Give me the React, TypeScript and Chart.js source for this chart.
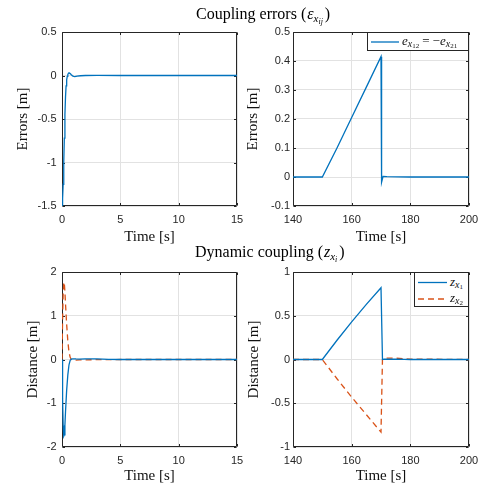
import React, { useEffect, useRef } from "react";
import { Chart, registerables } from "chart.js";

Chart.register(...registerables);

const BLUE = "#0072BD";
const ORANGE = "#D95319";
const AXIS = "#262626";
const GRID = "#e2e2e2";

// Top-left: coupling error, 0–15 s
const errTimeA = [0, 0.05, 0.1, 0.15, 0.2, 0.25, 0.3, 0.35, 0.4, 0.45, 0.5, 0.55, 0.6, 0.7, 0.8, 0.9, 1.0, 1.1, 1.3, 1.6, 2.0, 3, 5, 10, 15];
const errValA = [-1.5, -1.42, -1.25, -1.0, -0.72, -0.45, -0.25, -0.12, -0.05, -0.01, 0.012, 0.025, 0.03, 0.022, 0.008, -0.004, -0.01, -0.012, -0.008, -0.003, 0, 0.001, 0, 0, 0];

// Top-right: coupling error, 140–200 s
const errTimeB = [140, 150, 155, 160, 165, 170, 170.2, 170.7, 172, 180, 190, 200];
const errValB = [0, 0, 0.1, 0.205, 0.31, 0.415, -0.018, 0.002, 0.001, 0, 0, 0];

// Bottom-left: dynamic coupling, 0–15 s
const zTimeA = [0, 0.05, 0.1, 0.15, 0.2, 0.25, 0.3, 0.4, 0.5, 0.6, 0.7, 0.8, 0.9, 1.0, 1.2, 1.5, 2, 2.5, 3, 4, 5, 10, 15];
const z1A = [0, -0.9, -1.5, -1.75, -1.72, -1.5, -1.2, -0.7, -0.35, -0.12, -0.02, 0.01, 0.015, 0.015, 0.012, 0.01, 0.012, 0.015, 0.012, 0.005, 0, 0, 0];
const z2A = [0, 0.9, 1.5, 1.77, 1.74, 1.55, 1.28, 0.8, 0.42, 0.17, 0.05, 0.0, -0.012, -0.015, -0.012, -0.01, -0.008, -0.006, -0.004, -0.002, 0, 0, 0];

// Bottom-right: dynamic coupling, 140–200 s
const zTimeB = [140, 150, 155, 160, 165, 170, 170.5, 171, 175, 178, 180, 200];
const z1B = [0, 0, 0.22, 0.43, 0.63, 0.82, 0.0, 0.005, 0.003, 0.001, 0, 0];
const z2B = [0, 0, -0.22, -0.43, -0.63, -0.83, 0.0, 0.015, 0.015, 0.01, 0.005, 0];

// Tick labels
const xTicksA = [0, 5, 10, 15];
const xTicksB = [140, 160, 180, 200];
const yTicksErrA = [-1.5, -1, -0.5, 0, 0.5];
const yTicksErrB = [-0.1, 0, 0.1, 0.2, 0.3, 0.4, 0.5];
const yTicksZA = [-2, -1, 0, 1, 2];
const yTicksZB = [-1, -0.5, 0, 0.5, 1];

type Series = { t: number[]; v: number[]; color: string; dash?: number[] };
type Panel = {
  series: Series[];
  xTicks: number[];
  yTicks: number[];
  yTitle: string;
  yAxisW: number;
  yTickPad: number;
  yTitlePad: number;
  xAxisH: number;
  xTitlePad: number;
  padTop: number;
  padRight: number;
};

const boxPlugin = {
  id: "matlabBox",
  beforeDatasetsDraw(chart: any) {
    const { ctx, chartArea, scales } = chart;
    const { left, right, top, bottom } = chartArea;
    const x = scales.x;
    const y = scales.y;
    ctx.save();
    ctx.strokeStyle = AXIS;
    ctx.lineWidth = 1;
    ctx.beginPath();
    const L = Math.round(left) + 0.5;
    const R = Math.round(right) - 0.5;
    const T = Math.round(top) + 0.5;
    const B = Math.round(bottom) - 0.5;
    ctx.rect(L, T, R - L, B - T);
    const tl = 2.5;
    x.ticks.forEach((tk: any) => {
      const px = Math.round(x.getPixelForValue(tk.value)) + 0.5;
      ctx.moveTo(px, B);
      ctx.lineTo(px, B - tl);
      ctx.moveTo(px, T);
      ctx.lineTo(px, T + tl);
    });
    y.ticks.forEach((tk: any) => {
      const py = Math.round(y.getPixelForValue(tk.value)) + 0.5;
      ctx.moveTo(L, py);
      ctx.lineTo(L + tl, py);
      ctx.moveTo(R, py);
      ctx.lineTo(R - tl, py);
    });
    ctx.stroke();
    ctx.restore();
  },
};

function makeChart(canvas: HTMLCanvasElement, p: Panel) {
  const tickFont = { family: "'Liberation Sans', Arial, sans-serif", size: 11 };
  const titleFont = { family: "'Liberation Serif', 'Times New Roman', serif", size: 15, lineHeight: 1 };
  return new Chart(canvas, {
    type: "line",
    data: {
      datasets: p.series.map((s) => ({
        data: s.t.map((t, i) => ({ x: t, y: s.v[i] })),
        borderColor: s.color,
        borderWidth: 1.3,
        borderDash: s.dash ?? [],
        pointRadius: 0,
        fill: false,
        tension: 0,
      })),
    },
    options: {
      responsive: false,
      animation: false,
      devicePixelRatio: 1,
      events: [],
      layout: { padding: { top: p.padTop, right: p.padRight, left: 0, bottom: 0 } },
      plugins: {
        legend: { display: false },
        tooltip: { enabled: false },
        title: { display: false },
      },
      scales: {
        x: {
          type: "linear",
          min: p.xTicks[0],
          max: p.xTicks[p.xTicks.length - 1],
          afterBuildTicks: (s: any) => {
            s.ticks = p.xTicks.map((v) => ({ value: v }));
          },
          afterFit: (s: any) => {
            s.height = p.xAxisH;
            s.paddingLeft = 0;
            s.paddingRight = 0;
          },
          ticks: {
            padding: 7,
            color: AXIS,
            font: tickFont,
            maxRotation: 0,
            autoSkip: false,
            callback: (v: any) => String(v),
          },
          grid: { color: GRID, lineWidth: 1, drawTicks: false },
          border: { display: false },
          title: {
            display: true,
            text: "Time [s]",
            color: "#111",
            font: titleFont,
            padding: { top: 0, bottom: p.xTitlePad },
          },
        },
        y: {
          type: "linear",
          min: p.yTicks[0],
          max: p.yTicks[p.yTicks.length - 1],
          afterBuildTicks: (s: any) => {
            s.ticks = p.yTicks.map((v) => ({ value: v }));
          },
          afterFit: (s: any) => {
            s.width = p.yAxisW;
            s.paddingTop = 0;
            s.paddingBottom = 0;
          },
          ticks: {
            padding: p.yTickPad,
            color: AXIS,
            font: tickFont,
            autoSkip: false,
            callback: (v: any) => String(v),
          },
          grid: { color: GRID, lineWidth: 1, drawTicks: false },
          border: { display: false },
          title: {
            display: true,
            text: p.yTitle,
            color: "#111",
            font: titleFont,
            padding: { top: p.yTitlePad, bottom: 0 },
          },
        },
      },
    } as any,
    plugins: [boxPlugin],
  });
}

const serif = "'Liberation Serif', 'Times New Roman', serif";

const Sub = ({ children, size, top, italic = true }: { children: React.ReactNode; size: number; top: number; italic?: boolean }) => (
  <span style={{ fontSize: size, position: "relative", top, fontStyle: italic ? "italic" : "normal" }}>{children}</span>
);

export default function App() {
  const r1 = useRef<HTMLCanvasElement>(null);
  const r2 = useRef<HTMLCanvasElement>(null);
  const r3 = useRef<HTMLCanvasElement>(null);
  const r4 = useRef<HTMLCanvasElement>(null);

  useEffect(() => {
    const charts = [
      makeChart(r1.current!, {
        series: [{ t: errTimeA, v: errValA, color: BLUE }],
        xTicks: xTicksA,
        yTicks: yTicksErrA,
        yTitle: "Errors [m]",
        yAxisW: 62,
        yTickPad: 5.5,
        yTitlePad: 16,
        xAxisH: 40,
        xTitlePad: 1,
        padTop: 10,
        padRight: 8,
      }),
      makeChart(r2.current!, {
        series: [{ t: errTimeB, v: errValB, color: BLUE }],
        xTicks: xTicksB,
        yTicks: yTicksErrB,
        yTitle: "Errors [m]",
        yAxisW: 48,
        yTickPad: 3,
        yTitlePad: 1,
        xAxisH: 40,
        xTitlePad: 1,
        padTop: 10,
        padRight: 16,
      }),
      makeChart(r3.current!, {
        series: [
          { t: zTimeA, v: z1A, color: BLUE },
          { t: zTimeA, v: z2A, color: ORANGE, dash: [6, 4] },
        ],
        xTicks: xTicksA,
        yTicks: yTicksZA,
        yTitle: "Distance [m]",
        yAxisW: 62,
        yTickPad: 5.5,
        yTitlePad: 26,
        xAxisH: 41,
        xTitlePad: 4.5,
        padTop: 10,
        padRight: 8,
      }),
      makeChart(r4.current!, {
        series: [
          { t: zTimeB, v: z1B, color: BLUE },
          { t: zTimeB, v: z2B, color: ORANGE, dash: [6, 4] },
        ],
        xTicks: xTicksB,
        yTicks: yTicksZB,
        yTitle: "Distance [m]",
        yAxisW: 48,
        yTickPad: 3,
        yTitlePad: 1.5,
        xAxisH: 41,
        xTitlePad: 4.5,
        padTop: 10,
        padRight: 16,
      }),
    ];
    return () => charts.forEach((c) => c.destroy());
  }, []);

  const abs = (left: number, top: number, w: number, h: number): React.CSSProperties => ({
    position: "absolute",
    left,
    top,
    width: w,
    height: h,
  });

  return (
    <div style={{ position: "fixed", left: 0, top: 0, width: 485, height: 488, background: "#fff", overflow: "hidden" }}>
      <div style={abs(0, 22, 245, 224)}>
        <canvas ref={r1} width={245} height={224} style={{ width: 245, height: 224, display: "block" }} />
      </div>
      <div style={abs(245, 22, 240, 224)}>
        <canvas ref={r2} width={240} height={224} style={{ width: 240, height: 224, display: "block" }} />
      </div>
      <div style={abs(0, 262, 245, 226)}>
        <canvas ref={r3} width={245} height={226} style={{ width: 245, height: 226, display: "block" }} />
      </div>
      <div style={abs(245, 262, 240, 226)}>
        <canvas ref={r4} width={240} height={226} style={{ width: 240, height: 226, display: "block" }} />
      </div>

      <div style={{ position: "absolute", left: 196, top: 4, fontFamily: serif, fontSize: 16, lineHeight: "19px", color: "#000", whiteSpace: "nowrap" }}>
        Coupling errors (<i style={{ marginLeft: 1 }}>ε</i>
        <Sub size={11} top={3}>
          x<Sub size={8} top={2}>ij</Sub>
        </Sub>
        <span style={{ marginLeft: 2 }}>)</span>
      </div>
      <div style={{ position: "absolute", left: 195, top: 242, fontFamily: serif, fontSize: 16, lineHeight: "19px", color: "#000", whiteSpace: "nowrap" }}>
        Dynamic coupling (<i style={{ marginLeft: 1 }}>z</i>
        <Sub size={11} top={3}>
          x<Sub size={8} top={2}>i</Sub>
        </Sub>
        <span style={{ marginLeft: 2 }}>)</span>
      </div>

      {/* Legend top-right */}
      <div style={{ ...abs(367, 32, 102, 19), border: `1px solid ${AXIS}`, background: "#fff", boxSizing: "border-box" }}>
        <svg style={{ position: "absolute", left: 3, top: 0 }} width={30} height={17}>
          <line x1={0} y1={9} x2={28} y2={9} stroke={BLUE} strokeWidth={1.3} />
        </svg>
        <div style={{ position: "absolute", left: 34, top: 0, lineHeight: "15px", fontFamily: serif, fontSize: 13, whiteSpace: "nowrap", color: "#111" }}>
          <i>e</i>
          <Sub size={10} top={2}>
            x<Sub size={7} top={1} italic={false}>12</Sub>
          </Sub>
          <span style={{ margin: "0 3px" }}>=</span>
          <span>−</span>
          <i>e</i>
          <Sub size={10} top={2}>
            x<Sub size={7} top={1} italic={false}>21</Sub>
          </Sub>
        </div>
      </div>

      {/* Legend bottom-right */}
      <div style={{ ...abs(414, 272, 55, 35), border: `1px solid ${AXIS}`, background: "#fff", boxSizing: "border-box" }}>
        <svg style={{ position: "absolute", left: 3, top: 0 }} width={31} height={33}>
          <line x1={0} y1={9.5} x2={29} y2={9.5} stroke={BLUE} strokeWidth={1.3} />
          <line x1={0} y1={26} x2={29} y2={26} stroke={ORANGE} strokeWidth={1.3} strokeDasharray="6 4" />
        </svg>
        <div style={{ position: "absolute", left: 35, top: 0, fontFamily: serif, fontSize: 13, whiteSpace: "nowrap", color: "#111" }}>
          <div style={{ position: "absolute", left: 0, top: 1, lineHeight: "15px" }}>
            <i>z</i>
            <Sub size={10} top={1.5}>
              x<Sub size={7} top={1} italic={false}>1</Sub>
            </Sub>
          </div>
          <div style={{ position: "absolute", left: 0, top: 17, lineHeight: "15px" }}>
            <i>z</i>
            <Sub size={10} top={1.5}>
              x<Sub size={7} top={1} italic={false}>2</Sub>
            </Sub>
          </div>
        </div>
      </div>
    </div>
  );
}
